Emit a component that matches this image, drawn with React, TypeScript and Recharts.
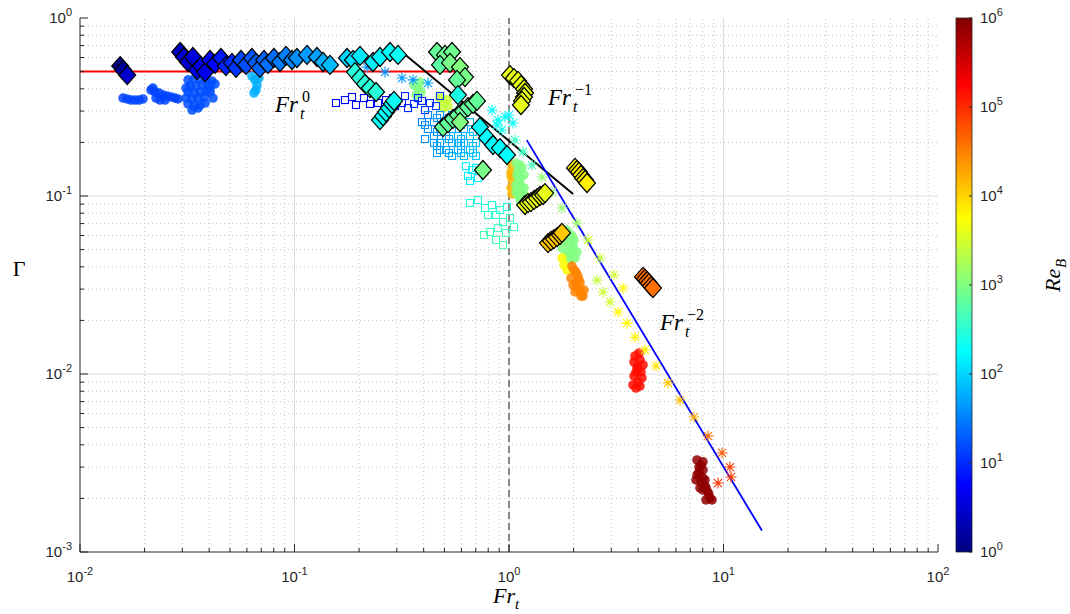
import React from "react";
import { ScatterChart, Scatter, XAxis, YAxis, ReferenceLine, ReferenceDot } from "recharts";

// axis decades (log10)
const xDecades = [-2, -1, 0, 1, 2];
const yDecades = [-3, -2, -1, 0];
const cbDecades = [0, 1, 2, 3, 4, 5, 6];

// diamonds: [Fr_t, Gamma, Re_B]
const diamondsFlat = [
  [0.0154, 0.537, 1.1], [0.0159, 0.51, 1.6], [0.0166, 0.478, 2.8],
  [0.0293, 0.644, 2.5], [0.0305, 0.604, 3], [0.0319, 0.566, 3], [0.0336, 0.604, 3.5],
  [0.0351, 0.51, 4], [0.0367, 0.537, 4], [0.0383, 0.497, 4.5], [0.0404, 0.581, 6],
  [0.0426, 0.552, 6], [0.0454, 0.596, 8], [0.0479, 0.537, 9], [0.0511, 0.559, 10],
  [0.0534, 0.524, 11], [0.0563, 0.581, 15], [0.0594, 0.545, 16], [0.0633, 0.596, 18],
  [0.0661, 0.559, 20], [0.069, 0.524, 22], [0.0721, 0.581, 22], [0.0752, 0.552, 25],
  [0.0802, 0.596, 25], [0.0856, 0.566, 30], [0.0913, 0.612, 32], [0.0973, 0.581, 35],
];
const diamondsMid = [
  [0.1027, 0.596, 40], [0.1144, 0.62, 45], [0.1273, 0.604, 50], [0.1358, 0.566, 60],
  [0.1464, 0.545, 70], [0.1757, 0.596, 100], [0.1874, 0.581, 120], [0.202, 0.612, 130],
  [0.2323, 0.566, 150], [0.2504, 0.604, 160], [0.2788, 0.644, 180], [0.3039, 0.62, 200],
];
const stackTeal = [[0.1914, 0.497], [0.202, 0.46], [0.2132, 0.426], [0.2249, 0.404], [0.2399, 0.384]];
const stackTealRe = 300;
const stackCyan = [[0.2504, 0.267], [0.2586, 0.281], [0.2671, 0.296], [0.2758, 0.312], [0.2848, 0.329], [0.291, 0.342]];
const stackCyanRe = 200;
const diamondsGreen = [
  [0.4617, 0.644, 700], [0.503, 0.62, 800], [0.5424, 0.644, 800], [0.4769, 0.545, 600],
  [0.5308, 0.559, 900], [0.5909, 0.53, 1000], [0.6234, 0.466, 900], [0.5723, 0.449, 700],
  [0.5784, 0.369, 250],
];
const stackGreen = [[0.4924, 0.244], [0.5195, 0.257], [0.5483, 0.271], [0.5784, 0.285], [0.6102, 0.3], [0.6437, 0.316], [0.6794, 0.329], [0.7091, 0.342]];
const stackGreenRe = 700;
const diamondsChain = [
  [0.5909, 0.26, 1000], [0.7322, 0.244, 180], [0.7898, 0.212, 180], [0.8423, 0.1934, 180],
  [0.9079, 0.186, 180], [0.9788, 0.17, 180], [0.7561, 0.14, 900],
];
const cubeTop = [[1.011, 0.478], [1.055, 0.46], [1.102, 0.443], [1.137, 0.42], [1.175, 0.399], [1.188, 0.379], [1.175, 0.36], [1.15, 0.342], [1.137, 0.3245]];
const cubeTopRe = 4000;
const cubeMid = [[1.188, 0.089], [1.226, 0.0913], [1.266, 0.0925], [1.308, 0.095], [1.351, 0.0974], [1.395, 0.1], [1.441, 0.1013], [1.472, 0.1039]];
const cubeMidRe = 4000;
const cubeRight = [[2.031, 0.1437], [2.075, 0.14], [2.12, 0.1364], [2.166, 0.1312], [2.213, 0.1262], [2.261, 0.123], [2.31, 0.1183]];
const cubeRightRe = 7000;
const cubeLow = [[1.52, 0.0544], [1.57, 0.0559], [1.621, 0.0573], [1.675, 0.0588], [1.729, 0.0604], [1.766, 0.062]];
const cubeLowRe = 12000;
const cubeOrange = [[4.215, 0.0351], [4.305, 0.0342], [4.399, 0.0333], [4.494, 0.0324], [4.592, 0.0312], [4.691, 0.0304]];
const cubeOrangeRe = 40000;

// filled circles: [Fr_t, Gamma] per Re_B group
const dotsStreakA = [[0.01587, 0.355], [0.01656, 0.351], [0.01729, 0.346], [0.01805, 0.346], [0.01884, 0.346], [0.01966, 0.351]];
const dotsStreakB = [
  [0.02143, 0.394], [0.02189, 0.404], [0.02237, 0.384], [0.02335, 0.379], [0.02438, 0.369],
  [0.02545, 0.3645], [0.02656, 0.36], [0.02773, 0.355], [0.02863, 0.351], [0.02261, 0.355],
  [0.0236, 0.346], [0.02491, 0.346],
];
const dotsBlobBlue = [
  [0.0319, 0.449], [0.034, 0.454], [0.0363, 0.454], [0.0387, 0.449], [0.0412, 0.443], [0.0426, 0.426],
  [0.0326, 0.415], [0.0347, 0.415], [0.0371, 0.42], [0.0395, 0.415], [0.0319, 0.384], [0.034, 0.379],
  [0.0363, 0.384], [0.0387, 0.389], [0.0312, 0.355], [0.0333, 0.351], [0.0355, 0.355], [0.0379, 0.36],
  [0.0319, 0.329], [0.034, 0.32], [0.0363, 0.3245], [0.0383, 0.333], [0.0404, 0.384], [0.0417, 0.355],
  [0.0312, 0.404], [0.0355, 0.312], [0.0333, 0.304], [0.0404, 0.404],
];
const dotsLightBlue = [[0.0633, 0.472], [0.06543, 0.449], [0.06685, 0.42], [0.0661, 0.394], [0.06473, 0.379], [0.0683, 0.46]];
const dotsGreenA = [[0.3607, 0.42], [0.3764, 0.404], [0.3888, 0.384], [0.3685, 0.369], [0.3846, 0.437]];
const dotsLime = [[0.4769, 0.355], [0.4977, 0.337], [0.5195, 0.32], [0.4924, 0.312], [0.514, 0.346]];
const dotsAmberA = [[1.033, 0.1493], [1.022, 0.1364], [1.033, 0.123], [1.022, 0.111], [1.022, 0.13], [1.033, 0.1026]];
const dotsGreenB = [
  [1.078, 0.153], [1.102, 0.14], [1.113, 0.1262], [1.125, 0.1153], [1.15, 0.1053], [1.137, 0.0974],
  [1.09, 0.1312], [1.15, 0.1437], [1.078, 0.1153], [1.102, 0.1013], [1.125, 0.1493], [1.175, 0.1312],
  [1.125, 0.123], [1.175, 0.111], [1.078, 0.1053], [1.125, 0.095], [1.188, 0.1],
];
const dotsGreenC = [
  [1.844, 0.0644], [1.924, 0.0596], [1.884, 0.0544], [1.966, 0.0497], [1.844, 0.0466], [2.031, 0.0448],
  [1.766, 0.051], [2.009, 0.0566], [1.884, 0.0628], [1.988, 0.0524], [1.904, 0.0484], [1.966, 0.0596],
  [1.805, 0.0566], [2.075, 0.0484], [1.924, 0.0437],
];
const dotsYellow = [[1.766, 0.0448], [1.805, 0.041], [1.864, 0.0384]];
const dotsOrange = [
  [1.966, 0.0404], [2.053, 0.0374], [1.945, 0.0346], [2.053, 0.032], [2.143, 0.0296], [2.213, 0.0274],
  [2.031, 0.0289], [2.12, 0.0337], [2.009, 0.0384], [2.098, 0.0355], [2.143, 0.0326], [1.988, 0.0316],
  [2.098, 0.0304], [2.237, 0.0296], [2.166, 0.0274],
];
const dotsRed = [
  [3.867, 0.01262], [4.08, 0.012], [3.953, 0.01095], [4.124, 0.01026], [3.826, 0.00974], [3.995, 0.00902],
  [3.785, 0.00868], [4.037, 0.01312], [4.215, 0.01124], [3.909, 0.01026], [4.169, 0.0095], [3.909, 0.00834],
  [4.08, 0.00856], [3.826, 0.01168], [3.995, 0.01067],
];
const dotsDarkRed = [
  [7.523, 0.00329], [7.853, 0.00308], [7.687, 0.00281], [8.024, 0.0026], [7.443, 0.00254], [8.198, 0.00235],
  [8.467, 0.00217], [8.651, 0.00201], [7.769, 0.00229], [8.024, 0.00321], [7.687, 0.003], [8.024, 0.00289],
  [7.523, 0.00271], [7.853, 0.00247], [8.198, 0.00254], [8.024, 0.00223], [8.286, 0.00229], [8.556, 0.00209],
  [8.286, 0.00196], [8.84, 0.00196],
];

// open squares: [Fr_t, Gamma, Re_B]
const squares = [
  [0.1561, 0.333, 6], [0.1719, 0.346, 6], [0.1854, 0.36, 6], [0.1935, 0.3245, 6], [0.2109, 0.355, 6],
  [0.2249, 0.329, 6], [0.2451, 0.333, 6], [0.2671, 0.346, 6], [0.2879, 0.355, 6],
  [0.2941, 0.32, 9], [0.3171, 0.333, 9], [0.3382, 0.312, 9], [0.3607, 0.329, 10], [0.3764, 0.355, 10],
  [0.4059, 0.304, 11], [0.4281, 0.333, 11], [0.4567, 0.32, 12], [0.4769, 0.3645, 12], [0.3275, 0.3645, 9],
  [0.3929, 0.342, 10],
  [0.4192, 0.285, 35], [0.4769, 0.285, 40], [0.5424, 0.285, 45], [0.3929, 0.26, 30], [0.447, 0.26, 40],
  [0.5085, 0.26, 50], [0.5784, 0.26, 55], [0.4192, 0.238, 40], [0.4769, 0.238, 50], [0.5424, 0.238, 55],
  [0.6168, 0.238, 60], [0.447, 0.2174, 45], [0.5085, 0.2174, 55], [0.5784, 0.2174, 60], [0.6578, 0.2174, 70],
  [0.4769, 0.1985, 50], [0.5424, 0.1985, 60], [0.6168, 0.1985, 65], [0.7017, 0.1985, 80], [0.5085, 0.1813, 55],
  [0.5784, 0.1813, 65], [0.6578, 0.1813, 75], [0.5424, 0.1678, 60], [0.6168, 0.1678, 70], [0.7017, 0.1678, 80],
  [0.447, 0.1985, 45], [0.6578, 0.26, 60], [0.5085, 0.238, 50], [0.5784, 0.1985, 60], [0.4769, 0.1813, 50],
  [0.4059, 0.2505, 40], [0.4617, 0.2743, 45], [0.5251, 0.2743, 50], [0.5974, 0.2505, 55], [0.6794, 0.229, 70],
  [0.4617, 0.229, 45], [0.5251, 0.209, 55], [0.5974, 0.209, 60], [0.4059, 0.209, 40], [0.4617, 0.191, 50],
  [0.5251, 0.1744, 55], [0.5974, 0.1744, 65], [0.6794, 0.191, 75], [0.5251, 0.2505, 50], [0.5974, 0.191, 60],
  [0.6794, 0.1744, 80], [0.4617, 0.1744, 50],
  [0.6302, 0.147, 150], [0.6724, 0.14, 150], [0.6437, 0.1296, 150], [0.7017, 0.1437, 150], [0.6578, 0.1215, 150],
  [0.7168, 0.1262, 150],
  [0.6578, 0.0913, 300], [0.7168, 0.095, 300], [0.7729, 0.0856, 300], [0.8331, 0.089, 300], [0.9079, 0.0834, 300],
  [0.9788, 0.0868, 300], [0.8698, 0.0782, 350], [0.7981, 0.0782, 350], [0.9376, 0.0714, 400], [1.011, 0.0752, 400],
  [0.8886, 0.0661, 450], [0.9683, 0.062, 500], [1.055, 0.0669, 450], [0.8154, 0.0628, 450], [0.7647, 0.0604, 500],
  [0.8698, 0.0566, 500], [0.9376, 0.053, 550],
];

// asterisks: [Fr_t, Gamma, Re_B]
const stars = [
  [0.2178, 0.53, 40], [0.2642, 0.497, 40], [0.3171, 0.46, 45], [0.3568, 0.449, 45], [0.4192, 0.431, 50],
  [0.8331, 0.304, 180], [0.8886, 0.267, 180], [0.958, 0.278, 200], [1.044, 0.257, 200], [0.8794, 0.2505, 200],
  [0.9277, 0.235, 220], [1.0, 0.285, 180],
  [1.067, 0.2064, 400], [1.162, 0.1767, 400], [1.28, 0.1493, 450],
  [1.425, 0.1278, 1200], [1.586, 0.1053, 1200], [1.766, 0.0856, 1300], [2.075, 0.0705, 1500],
  [2.335, 0.0566, 2500], [2.656, 0.0448, 2500], [2.572, 0.0337, 2500], [2.743, 0.0289, 2800], [2.957, 0.0254, 3000], [3.087, 0.036, 3000],
  [3.222, 0.0223, 6000], [3.4, 0.0304, 6000], [3.549, 0.0193, 6000], [3.867, 0.0161, 6500], [4.305, 0.01364, 7000], [4.845, 0.0111, 8000],
  [5.512, 0.0089, 12000], [6.269, 0.00714, 14000], [7.288, 0.00573, 16000],
  [8.467, 0.00448, 40000], [9.84, 0.0036, 50000],
  [10.72, 0.003, 80000], [10.84, 0.00264, 80000], [9.428, 0.00244, 90000],
];

// scaling-law lines
const flatLine = [[0.01, 0.5], [0.63, 0.5]];
const invLine = [[0.317, 0.644], [1.99, 0.1025]];
const inv2Line = [[1.21, 0.206], [15.1, 0.00132]];

const jet = (re: number) => {
  const t = Math.min(1, Math.max(0, Math.log10(re) / 6));
  const c = (v: number) => Math.round(255 * Math.min(1, Math.max(0, v)));
  return `rgb(${c(1.5 - Math.abs(4 * t - 3))},${c(1.5 - Math.abs(4 * t - 2))},${c(1.5 - Math.abs(4 * t - 1))})`;
};

const rows = (a: number[][], re?: number) => a.map(([fr, g, r]) => ({ fr, g, re: re ?? r }));

const diamondData = [
  ...rows(diamondsFlat), ...rows(diamondsMid), ...rows(stackTeal, stackTealRe), ...rows(stackCyan, stackCyanRe),
  ...rows(diamondsGreen), ...rows(stackGreen, stackGreenRe), ...rows(diamondsChain),
  ...rows(cubeTop, cubeTopRe), ...rows(cubeMid, cubeMidRe), ...rows(cubeRight, cubeRightRe),
  ...rows(cubeLow, cubeLowRe), ...rows(cubeOrange, cubeOrangeRe),
];
const dotData = [
  ...rows(dotsStreakA, 14), ...rows(dotsStreakB, 14), ...rows(dotsBlobBlue, 16), ...rows(dotsLightBlue, 60),
  ...rows(dotsGreenA, 1000), ...rows(dotsLime, 2500), ...rows(dotsAmberA, 15000), ...rows(dotsGreenB, 1000),
  ...rows(dotsGreenC, 1000), ...rows(dotsYellow, 6000), ...rows(dotsOrange, 30000), ...rows(dotsRed, 150000),
  ...rows(dotsDarkRed, 800000),
];
const squareData = rows(squares);
const starData = rows(stars);

const logTicks = (decades: number[]) => {
  const out: number[] = [];
  decades.forEach((d, i) => {
    out.push(Math.pow(10, d));
    if (i < decades.length - 1) for (let m = 2; m <= 9; m++) out.push(+(m * Math.pow(10, d)).toPrecision(3));
  });
  return out;
};
const xTicks = logTicks(xDecades);
const yTicks = logTicks(yDecades);
const isDecade = (v: number) => Math.abs(Math.log10(v) - Math.round(Math.log10(v))) < 1e-6;

const AX = "#262626";
const SANS = "'Liberation Sans', Arial, sans-serif";
const SERIF = "'Liberation Serif', 'Times New Roman', serif";

const Pow = ({ x, y, e, anchor }: any) => (
  <text x={x} y={y} textAnchor={anchor} fontFamily={SANS} fontSize={15} fill={AX}>
    10<tspan dy={-7} fontSize={11}>{e}</tspan>
  </text>
);

const BottomTick = ({ x, y, payload }: any) => {
  const major = isDecade(payload.value);
  return (
    <g>
      <line x1={x} x2={x} y1={y} y2={y - (major ? 8 : 4)} stroke={AX} />
      {major && <Pow x={x} y={y + 30} e={Math.round(Math.log10(payload.value))} anchor="middle" />}
    </g>
  );
};
const TopTick = ({ x, y, payload }: any) => (
  <line x1={x} x2={x} y1={y} y2={y + (isDecade(payload.value) ? 8 : 4)} stroke={AX} />
);
const LeftTick = ({ x, y, payload }: any) => {
  const major = isDecade(payload.value);
  return (
    <g>
      <line x1={x} x2={x + (major ? 8 : 4)} y1={y} y2={y} stroke={AX} />
      {major && <Pow x={x - 8} y={y + 5} e={Math.round(Math.log10(payload.value))} anchor="end" />}
    </g>
  );
};
const RightTick = ({ x, y, payload }: any) => (
  <line x1={x} x2={x - (isDecade(payload.value) ? 8 : 4)} y1={y} y2={y} stroke={AX} />
);

const Diamond = ({ cx, cy, payload }: any) =>
  cx == null ? <g /> : (
    <path d={`M${cx} ${cy - 9.5}L${cx + 8.5} ${cy}L${cx} ${cy + 9.5}L${cx - 8.5} ${cy}Z`} fill={jet(payload.re)} stroke="#000" strokeWidth={1.2} />
  );
const Dot = ({ cx, cy, payload }: any) =>
  cx == null ? <g /> : <circle cx={cx} cy={cy} r={4.8} fill={jet(payload.re)} fillOpacity={0.85} />;
const Square = ({ cx, cy, payload }: any) =>
  cx == null ? <g /> : <rect x={cx - 3.5} y={cy - 3.5} width={7} height={7} fill="none" stroke={jet(payload.re)} strokeWidth={1.1} />;
const Star = ({ cx, cy, payload }: any) =>
  cx == null ? <g /> : (
    <path d={`M${cx - 5.5} ${cy}h11M${cx} ${cy - 5.5}v11M${cx - 4} ${cy - 4}l8 8M${cx - 4} ${cy + 4}l8 -8`} stroke={jet(payload.re)} strokeWidth={1.1} fill="none" />
  );

const FrLabel = ({ cx, cy, exp }: any) => (
  <g fontFamily={SERIF} fill="#000">
    <text x={cx} y={cy} fontSize={23} fontStyle="italic">Fr</text>
    <text x={cx + 25} y={cy + 7} fontSize={16} fontStyle="italic">t</text>
    <text x={cx + 27} y={cy - 10} fontSize={16}>{exp}</text>
  </g>
);

const seg = (l: number[][]) => l.map(([x, y]) => ({ x, y }));

export default function App() {
  const minorX = xTicks.filter((v) => !isDecade(v));
  const minorY = yTicks.filter((v) => !isDecade(v));
  return (
    <div style={{ position: "absolute", left: 0, top: 0, width: 1070, height: 614, background: "#fff" }}>
      <ScatterChart width={1070} height={614} margin={{ top: 18, right: 132, bottom: 0, left: 0 }}>
        <XAxis dataKey="fr" type="number" scale="log" domain={[0.01, 100]} allowDataOverflow ticks={xTicks}
          interval={0} tick={<BottomTick />} tickLine={false} tickSize={0} tickMargin={0} height={62} stroke={AX} />
        <XAxis xAxisId="top" orientation="top" type="number" scale="log" domain={[0.01, 100]} allowDataOverflow
          ticks={xTicks} interval={0} tick={<TopTick />} tickLine={false} tickSize={0} tickMargin={0} height={0} stroke={AX} />
        <YAxis dataKey="g" type="number" scale="log" domain={[0.001, 1]} allowDataOverflow ticks={yTicks}
          interval={0} tick={<LeftTick />} tickLine={false} tickSize={0} tickMargin={0} width={80} stroke={AX} />
        <YAxis yAxisId="right" orientation="right" type="number" scale="log" domain={[0.001, 1]} allowDataOverflow
          ticks={yTicks} interval={0} tick={<RightTick />} tickLine={false} tickSize={0} tickMargin={0} width={0} stroke={AX} />

        {minorX.map((v) => <ReferenceLine key={"mx" + v} x={v} stroke="#c4c4c4" strokeDasharray="1 3" />)}
        {minorY.map((v) => <ReferenceLine key={"my" + v} y={v} stroke="#c4c4c4" strokeDasharray="1 3" />)}
        {[0.1, 1, 10].map((v) => <ReferenceLine key={"gx" + v} x={v} stroke="#dedede" />)}
        {[0.01, 0.1].map((v) => <ReferenceLine key={"gy" + v} y={v} stroke="#dedede" />)}

        <Scatter data={dotData} shape={<Dot />} isAnimationActive={false} />
        <Scatter data={squareData} shape={<Square />} isAnimationActive={false} />
        <Scatter data={starData} shape={<Star />} isAnimationActive={false} />
        <Scatter data={diamondData} shape={<Diamond />} isAnimationActive={false} />

        <ReferenceLine x={1} stroke="#222" strokeDasharray="7 4" />
        <ReferenceLine segment={seg(flatLine)} stroke="#ff0000" strokeWidth={2} />
        <ReferenceLine segment={seg(invLine)} stroke="#000" strokeWidth={2} />
        <ReferenceLine segment={seg(inv2Line)} stroke="#0000ff" strokeWidth={1.8} />

        <ReferenceDot x={0.0811} y={0.296} r={0} shape={(p: any) => <FrLabel {...p} exp="0" />} />
        <ReferenceDot x={1.52} y={0.3245} r={0} shape={(p: any) => <FrLabel {...p} exp="−1" />} />
        <ReferenceDot x={5.06} y={0.01767} r={0} shape={(p: any) => <FrLabel {...p} exp="−2" />} />
      </ScatterChart>

      <svg width={1070} height={614} style={{ position: "absolute", left: 0, top: 0, pointerEvents: "none" }}>
        <defs>
          <linearGradient id="jetbar" x1="0" y1="1" x2="0" y2="0">
            <stop offset="0%" stopColor="#000080" />
            <stop offset="12.5%" stopColor="#0000ff" />
            <stop offset="37.5%" stopColor="#00ffff" />
            <stop offset="62.5%" stopColor="#ffff00" />
            <stop offset="87.5%" stopColor="#ff0000" />
            <stop offset="100%" stopColor="#800000" />
          </linearGradient>
        </defs>
        <rect x={956} y={18} width={16} height={534} fill="url(#jetbar)" stroke={AX} strokeWidth={0.8} />
        {cbDecades.map((k) => {
          const y = 552 - (k * 534) / 6;
          return (
            <g key={k}>
              <line x1={969} x2={972} y1={y} y2={y} stroke={AX} />
              <Pow x={980} y={y + 5} e={k} anchor="start" />
            </g>
          );
        })}
        <text x={19} y={276} fontFamily={SERIF} fontSize={22} textAnchor="middle">Γ</text>
        <g fontFamily={SERIF} fontStyle="italic">
          <text x={493} y={603} fontSize={22}>Fr</text>
          <text x={515} y={609} fontSize={15}>t</text>
        </g>
        <g transform="translate(1060,270) rotate(-90)" fontFamily={SERIF} fontStyle="italic">
          <text x={-22} y={0} fontSize={22}>Re</text>
          <text x={2} y={6} fontSize={15}>B</text>
        </g>
      </svg>
    </div>
  );
}
